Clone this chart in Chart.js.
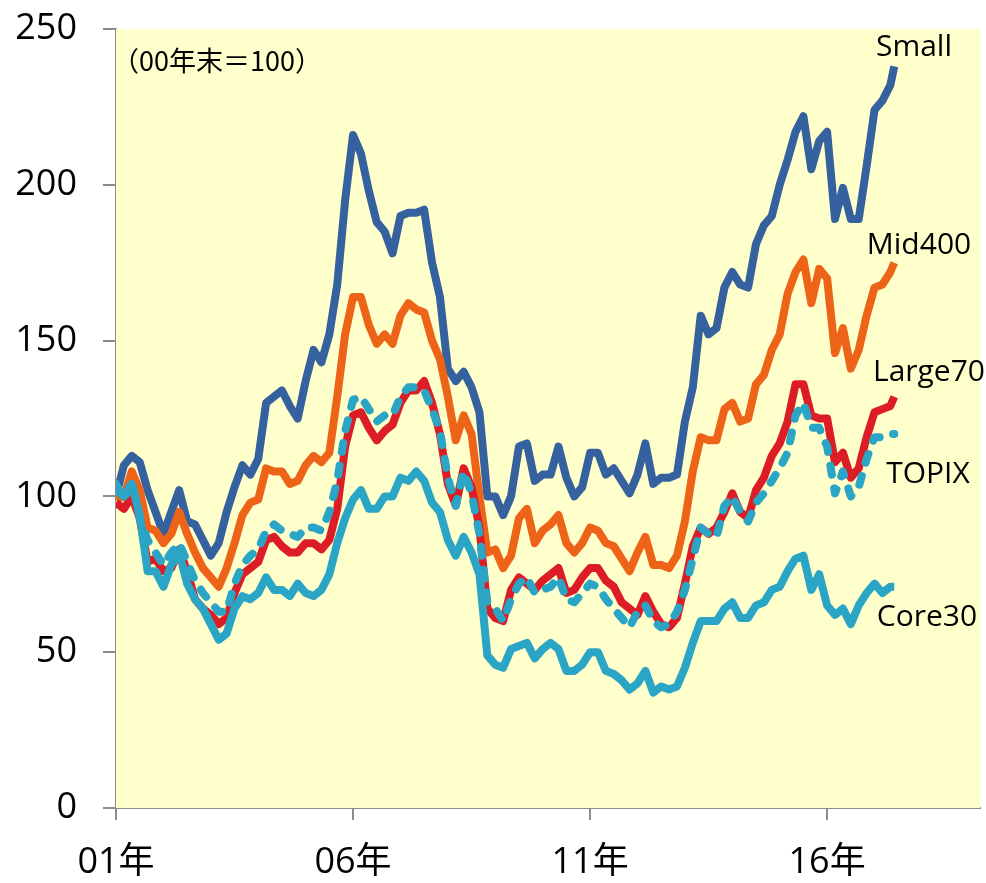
<!DOCTYPE html>
<html lang="ja">
<head>
<meta charset="utf-8">
<title>規模別株価指数の推移</title>
<script src="https://cdn.jsdelivr.net/npm/chart.js@4.4.4/dist/chart.umd.min.js"></script>
<style>
  body { margin: 0; background: #fff; }
  #wrap { width: 986px; height: 883px; }
</style>
</head>
<body>
<div id="wrap"><canvas id="chart" width="986" height="883"></canvas></div>
<script>
// 月数 (01年1月 = 0)
const months = [
  0, 2, 4, 6, 8, 10, 12, 14, 16, 18,
  20, 22, 24, 26, 28, 30, 32, 34, 36, 38,
  40, 42, 44, 46, 48, 50, 52, 54, 56, 58,
  60, 62, 64, 66, 68, 70, 72, 74, 76, 78,
  80, 82, 84, 86, 88, 90, 92, 94, 96, 98,
  100, 102, 104, 106, 108, 110, 112, 114, 116, 118,
  120, 122, 124, 126, 128, 130, 132, 134, 136, 138,
  140, 142, 144, 146, 148, 150, 152, 154, 156, 158,
  160, 162, 164, 166, 168, 170, 172, 174, 176, 178,
  180, 182, 184, 186, 188, 190, 192, 194, 196, 197
];
const tickMonths = [0, 60, 120, 180];
const tickLabels = ['01年', '06年', '11年', '16年'];

const small = [
  100, 110, 113, 111, 102, 95, 88, 95, 102, 92,
  91, 86, 81, 85, 95, 103, 110, 107, 112, 130,
  132, 134, 129, 125, 137, 147, 143, 152, 168, 195,
  216, 210, 198, 188, 185, 178, 190, 191, 191, 192,
  175, 164, 141, 137, 140, 135, 127, 100, 100, 94,
  100, 116, 117, 105, 107, 107, 116, 106, 100, 103,
  114, 114, 107, 109, 105, 101, 107, 117, 104, 106,
  106, 107, 124, 135, 158, 152, 154, 167, 172, 168,
  167, 181, 187, 190, 200, 208, 217, 222, 205, 214,
  217, 189, 199, 189, 189, 206, 224, 227, 232, 238
];
const mid400 = [
  99, 100, 108, 102, 90, 89, 85, 88, 95, 88,
  82, 77, 74, 71, 77, 85, 94, 98, 99, 109,
  108, 108, 104, 105, 110, 113, 111, 114, 132, 152,
  164, 164, 155, 149, 152, 149, 158, 162, 160, 159,
  150, 144, 132, 118, 126, 120, 100, 82, 83, 77,
  81, 93, 96, 85, 89, 91, 94, 85, 82, 85,
  90, 89, 85, 84, 80, 76, 82, 87, 78, 78,
  77, 81, 92, 108, 119, 118, 118, 128, 130, 124,
  125, 136, 139, 147, 152, 165, 172, 176, 162, 173,
  170, 146, 154, 141, 147, 158, 167, 168, 172, 175
];
const large70 = [
  98, 96, 100, 93, 79, 80, 76, 77, 83, 76,
  67, 64, 62, 59, 61, 69, 75, 77, 79, 86,
  87, 84, 82, 82, 85, 85, 83, 86, 96, 116,
  126, 127, 122, 118, 121, 123, 130, 134, 134, 137,
  130, 120, 104, 97, 109, 103, 90, 64, 61, 60,
  70, 74, 72, 70, 73, 75, 77, 69, 70, 74,
  77, 77, 73, 71, 66, 64, 62, 68, 63, 59,
  58, 61, 72, 84, 90, 88, 90, 95, 101, 95,
  93, 102, 106, 113, 117, 124, 136, 136, 126, 125,
  125, 111, 114, 106, 109, 119, 127, 128, 129, 132
];
const topix = [
  104, 99, 105, 93, 86, 82, 78, 82, 85, 79,
  73, 69, 66, 63, 63, 72, 78, 81, 83, 89,
  91, 89, 88, 87, 90, 90, 89, 95, 105, 121,
  131, 132, 128, 124, 126, 126, 132, 135, 135, 134,
  128, 121, 106, 97, 108, 101, 88, 66, 64, 60,
  67, 72, 74, 69, 70, 71, 74, 67, 66, 69,
  72, 71, 67, 64, 61, 58, 63, 65, 60, 58,
  59, 63, 70, 80, 90, 88, 87, 97, 100, 95,
  92, 98, 101, 105, 109, 114, 126, 130, 122, 122,
  116, 101, 108, 100, 103, 112, 119, 119, 120, 120
];
const core30 = [
  102, 100, 104, 94, 76, 76, 71, 78, 82, 72,
  67, 64, 59, 54, 56, 64, 68, 67, 69, 74,
  70, 70, 68, 72, 69, 68, 70, 75, 85, 93,
  99, 102, 96, 96, 100, 100, 106, 105, 108, 105,
  98, 95, 86, 81, 87, 82, 75, 49, 46, 45,
  51, 52, 53, 48, 51, 53, 51, 44, 44, 46,
  50, 50, 44, 43, 41, 38, 40, 44, 37, 39,
  38, 39, 45, 53, 60, 60, 60, 64, 66, 61,
  61, 65, 66, 70, 71, 76, 80, 81, 70, 75,
  65, 62, 64, 59, 65, 69, 72, 69, 71, 71
];

const toPoints = arr => arr.map((v, i) => ({ x: months[i], y: v }));

// 描画エリアの背景
const plotBg = {
  id: 'plotBg',
  beforeDatasetsDraw(chart) {
    const { ctx, chartArea: a } = chart;
    ctx.save();
    ctx.fillStyle = '#FFFFCC';
    ctx.fillRect(a.left, a.top, a.right - a.left, a.bottom - a.top);
    ctx.restore();
  }
};

// 系列名と注記
const textLabels = {
  id: 'textLabels',
  afterDatasetsDraw(chart) {
    const ctx = chart.ctx;
    ctx.save();
    ctx.fillStyle = '#000';
    ctx.textBaseline = 'middle';
    ctx.textAlign = 'center';
    ctx.font = '30px "Open Sans", "Noto Sans CJK JP", sans-serif';
    [['Small', 914, 47], ['Mid400', 919, 245], ['Large70', 929, 372],
     ['TOPIX', 928, 474], ['Core30', 927, 617]].forEach(([t, x, y]) => ctx.fillText(t, x, y));
    ctx.textAlign = 'left';
    ctx.font = '27px "Noto Sans CJK JP", sans-serif';
    ctx.fillText('（00年末＝100）', 112, 61);
    ctx.restore();
  }
};

const line = (label, data, color, dash) => ({
  label,
  data: toPoints(data),
  borderColor: color,
  borderWidth: 8,
  borderDash: dash || [],
  borderCapStyle: dash ? 'round' : 'butt',
  borderJoinStyle: 'round',
  pointRadius: 0,
  tension: 0,
  fill: false
});

new Chart(document.getElementById('chart'), {
  type: 'line',
  data: {
    datasets: [
      line('TOPIX', topix, '#2BA5C5', [9, 14]),
      line('Core30', core30, '#2BA5C5'),
      line('Large70', large70, '#DC1D26'),
      line('Mid400', mid400, '#ED6419'),
      line('Small', small, '#36619F')
    ]
  },
  options: {
    responsive: false,
    animation: false,
    devicePixelRatio: 1,
    layout: { padding: { top: 29, right: 6, left: 0, bottom: 0 } },
    plugins: { legend: { display: false }, tooltip: { enabled: false } },
    scales: {
      x: {
        type: 'linear',
        min: 0,
        max: 218.7,
        afterBuildTicks: axis => { axis.ticks = tickMonths.map(v => ({ value: v })); },
        afterFit: s => { s.height = 75; s.paddingLeft = 0; s.paddingRight = 0; },
        ticks: {
          autoSkip: false,
          maxRotation: 0,
          padding: 21,
          color: '#000',
          font: { family: '"Open Sans", "Noto Sans CJK JP", sans-serif', size: 36 },
          callback: v => tickLabels[tickMonths.indexOf(v)]
        },
        grid: { drawOnChartArea: false, drawTicks: true, tickLength: 12, color: '#8c8c8c', lineWidth: 2 },
        border: { display: true, color: '#8c8c8c', width: 2 }
      },
      y: {
        min: 0,
        max: 250,
        afterFit: s => { s.width = 116; s.paddingTop = 0; s.paddingBottom = 0; },
        ticks: {
          stepSize: 50,
          padding: 26,
          color: '#000',
          font: { family: '"Open Sans", sans-serif', size: 36 }
        },
        grid: { drawOnChartArea: false, drawTicks: true, tickLength: 13, color: '#8c8c8c', lineWidth: 2 },
        border: { display: true, color: '#8c8c8c', width: 2 }
      }
    }
  },
  plugins: [plotBg, textLabels]
});
</script>
</body>
</html>
